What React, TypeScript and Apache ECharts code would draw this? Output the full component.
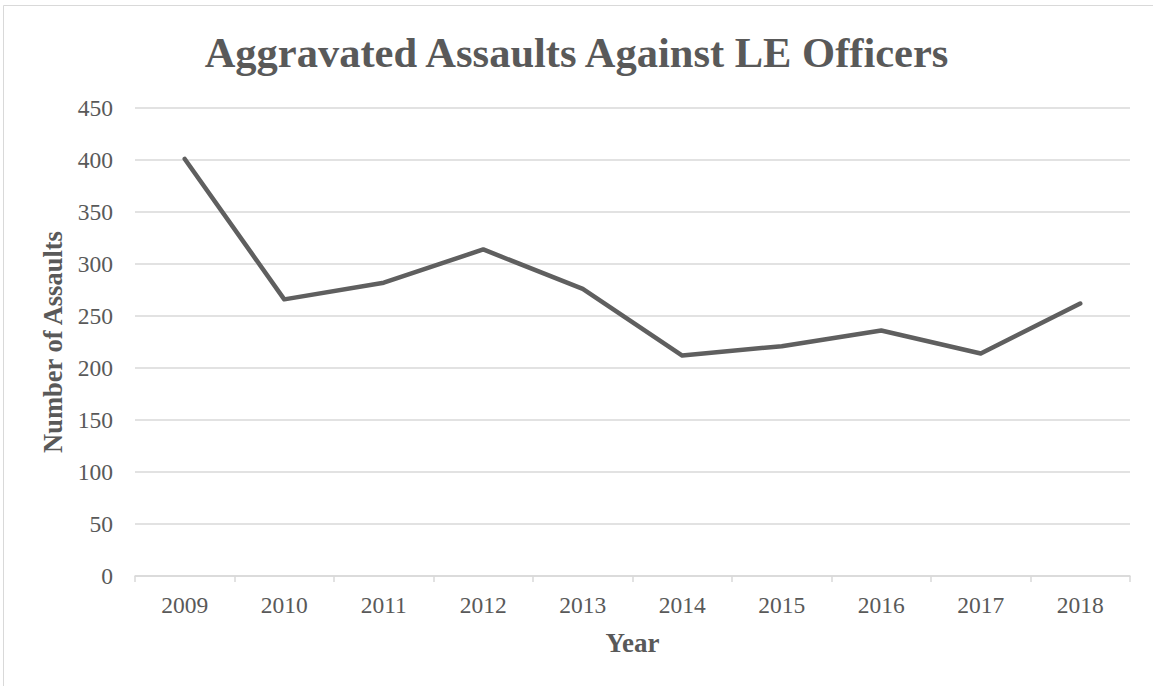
import React, { useEffect, useRef } from "react";
import * as echarts from "echarts";

const years = ["2009", "2010", "2011", "2012", "2013", "2014", "2015", "2016", "2017", "2018"];
const assaults = [401, 266, 282, 314, 276, 212, 221, 236, 214, 262];
const titleText = "Aggravated Assaults Against LE Officers";
const yAxisName = "Number of Assaults";
const xAxisName = "Year";

const FONT = "'Liberation Serif', 'Times New Roman', serif";
const TEXT = "#595959";
const GRID = "#d9d9d9";

export default function App() {
  const ref = useRef<HTMLDivElement>(null);
  useEffect(() => {
    if (!ref.current) return;
    const chart = echarts.init(ref.current, undefined, { renderer: "svg" });
    chart.setOption({
      animation: false,
      backgroundColor: "#ffffff",
      graphic: [
        {
          type: "rect",
          shape: { x: 3.5, y: 5.5, width: 1160, height: 700 },
          style: { fill: "none", stroke: GRID, lineWidth: 1 },
          silent: true,
        },
      ],
      title: {
        text: titleText,
        left: "center",
        top: 26,
        textStyle: { fontFamily: FONT, fontSize: 42.5, fontWeight: "bold", color: TEXT },
      },
      grid: { left: 135, right: 23, top: 108, bottom: 110, containLabel: false },
      xAxis: {
        type: "category",
        data: years,
        boundaryGap: true,
        name: xAxisName,
        nameLocation: "middle",
        nameGap: 53,
        nameTextStyle: { fontFamily: FONT, fontSize: 27, fontWeight: "bold", color: TEXT },
        axisLine: { show: true, lineStyle: { color: GRID, width: 1.5 } },
        axisTick: { show: true, alignWithLabel: false, length: 6, lineStyle: { color: GRID, width: 1.5 } },
        axisLabel: { fontFamily: FONT, fontSize: 23.5, color: TEXT, margin: 17 },
        splitLine: { show: false },
      },
      yAxis: {
        type: "value",
        min: 0,
        max: 450,
        interval: 50,
        name: yAxisName,
        nameLocation: "middle",
        nameGap: 68,
        nameTextStyle: { fontFamily: FONT, fontSize: 26.5, fontWeight: "bold", color: TEXT },
        axisLine: { show: false },
        axisTick: { show: false },
        axisLabel: { fontFamily: FONT, fontSize: 23.5, color: TEXT, margin: 22 },
        splitLine: { show: true, lineStyle: { color: GRID, width: 1.5 } },
      },
      series: [
        {
          type: "line",
          data: assaults,
          showSymbol: false,
          symbol: "none",
          lineStyle: { color: "#5f5f5f", width: 4.5, cap: "round", join: "round" },
          itemStyle: { color: "#5f5f5f" },
        },
      ],
    });
    return () => chart.dispose();
  }, []);
  return (
    <div
      ref={ref}
      style={{ position: "fixed", left: 0, top: 0, width: 1153, height: 686 }}
    />
  );
}
